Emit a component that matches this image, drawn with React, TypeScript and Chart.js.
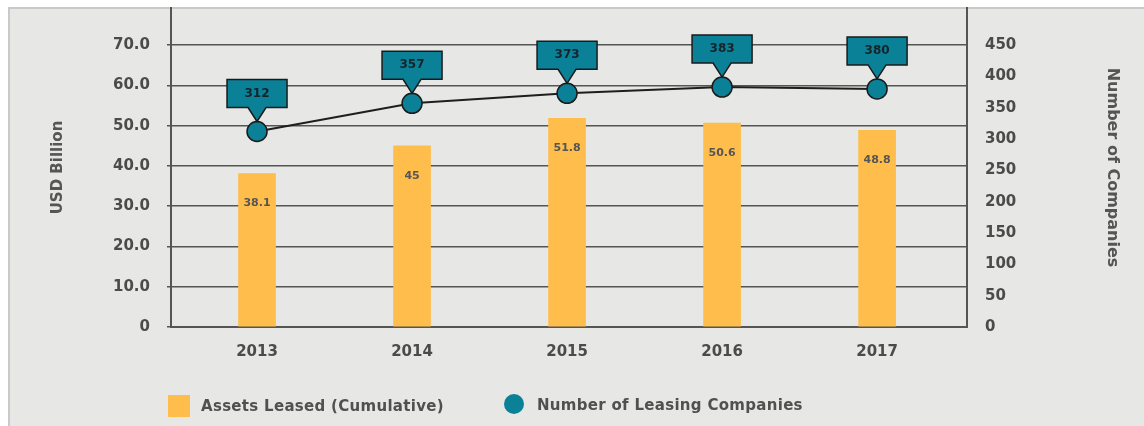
import React, { useEffect, useRef } from "react";
import { Chart, registerables } from "chart.js";

Chart.register(...registerables);

const years = ["2013", "2014", "2015", "2016", "2017"];
const assetsLeased = [38.1, 45, 51.8, 50.6, 48.8];
const leasingCompanies = [312, 357, 373, 383, 380];
const leftTickValues = [0, 10, 20, 30, 40, 50, 60, 70];
const rightTickValues = [0, 50, 100, 150, 200, 250, 300, 350, 400, 450];

const LEFT_MAX = 79.2;
const RIGHT_MAX = (LEFT_MAX * 450) / 70;
const X_MIN = -0.555;
const X_MAX = 4.58;

const TEAL = "#0b8198";
const ORANGE = "#ffbd4b";
const TEXT = "#4b4b4b";
const FONT = '"DejaVu Sans", sans-serif';

const calloutPlugin = {
  id: "callouts",
  afterDatasetsDraw(chart: any) {
    const ctx = chart.ctx;
    const barMeta = chart.getDatasetMeta(0);
    ctx.save();
    ctx.font = `bold 11px ${FONT}`;
    ctx.fillStyle = "#555555";
    ctx.textAlign = "center";
    ctx.textBaseline = "middle";
    barMeta.data.forEach((el: any, i: number) => {
      ctx.fillText(String(assetsLeased[i]), el.x, el.y + 30);
    });
    const lineMeta = chart.getDatasetMeta(1);
    lineMeta.data.forEach((pt: any, i: number) => {
      const x = pt.x;
      const y = pt.y;
      const w = 60;
      const h = 28;
      const bottom = y - 24;
      const top = bottom - h;
      ctx.beginPath();
      ctx.moveTo(x - w / 2, top);
      ctx.lineTo(x + w / 2, top);
      ctx.lineTo(x + w / 2, bottom);
      ctx.lineTo(x + 9, bottom);
      ctx.lineTo(x, y - 10);
      ctx.lineTo(x - 9, bottom);
      ctx.lineTo(x - w / 2, bottom);
      ctx.closePath();
      ctx.fillStyle = TEAL;
      ctx.fill();
      ctx.lineWidth = 1.5;
      ctx.strokeStyle = "#1a1a1a";
      ctx.stroke();
      ctx.fillStyle = "#14242a";
      ctx.font = `bold 12px ${FONT}`;
      ctx.fillText(String(leasingCompanies[i]), x, top + h / 2);
    });
    ctx.restore();
  },
};

export default function App() {
  const ref = useRef<HTMLCanvasElement | null>(null);

  useEffect(() => {
    document.documentElement.style.overflow = "hidden";
    const canvas = ref.current;
    if (!canvas) return;
    const chart = new Chart(canvas, {
      type: "bar",
      data: {
        datasets: [
          {
            type: "bar",
            label: "Assets Leased (Cumulative)",
            data: assetsLeased.map((v, i) => ({ x: i, y: v })),
            backgroundColor: ORANGE,
            barThickness: 37,
            yAxisID: "y",
            order: 2,
          },
          {
            type: "line",
            label: "Number of Leasing Companies",
            data: leasingCompanies.map((v, i) => ({ x: i, y: v })),
            borderColor: "#1e1e1e",
            borderWidth: 2,
            pointRadius: 10,
            pointBackgroundColor: TEAL,
            pointBorderColor: "#1a1a1a",
            pointBorderWidth: 1.5,
            yAxisID: "y1",
            order: 1,
            clip: false,
          } as any,
        ],
      },
      options: {
        responsive: false,
        animation: false,
        devicePixelRatio: 1,
        layout: { autoPadding: false, padding: { left: 0, right: 0, top: 8, bottom: 59 } },
        plugins: {
          legend: { display: false },
          tooltip: { enabled: false },
        },
        scales: {
          x: {
            type: "linear",
            min: X_MIN,
            max: X_MAX,
            offset: false,
            afterBuildTicks: (s: any) => {
              s.ticks = years.map((_, i) => ({ value: i }));
            },
            afterFit: (s: any) => {
              s.height = 40;
              s.paddingLeft = 0;
              s.paddingRight = 0;
            },
            grid: { display: false, drawTicks: false },
            border: { display: true, color: "#555555", width: 2 },
            ticks: {
              color: TEXT,
              padding: 16,
              font: { family: FONT, size: 15, weight: "bold" },
              callback: (v: any) => years[Math.round(Number(v))] ?? "",
            },
          },
          y: {
            position: "left",
            min: 0,
            max: LEFT_MAX,
            afterBuildTicks: (s: any) => {
              s.ticks = leftTickValues.map((v) => ({ value: v }));
            },
            afterFit: (s: any) => {
              s.width = 171;
              s.paddingTop = 0;
              s.paddingBottom = 0;
            },
            grid: { color: "#555555", lineWidth: 1.5, tickLength: 4, drawTicks: true },
            border: { display: true, color: "#555555", width: 2 },
            ticks: {
              color: TEXT,
              padding: 17,
              font: { family: FONT, size: 15, weight: "bold" },
              callback: (v: any) => (Number(v) === 0 ? "0" : Number(v).toFixed(1)),
            },
            title: {
              display: true,
              text: "USD Billion",
              color: "#555555",
              font: { family: FONT, size: 15, weight: "bold" },
              padding: { top: 49, bottom: 0 },
            },
          },
          y1: {
            position: "right",
            min: 0,
            max: RIGHT_MAX,
            afterBuildTicks: (s: any) => {
              s.ticks = rightTickValues.map((v) => ({ value: v }));
            },
            afterFit: (s: any) => {
              s.width = 177;
              s.paddingTop = 0;
              s.paddingBottom = 0;
            },
            grid: { drawOnChartArea: false, drawTicks: false },
            border: { display: true, color: "#555555", width: 2 },
            ticks: {
              color: TEXT,
              padding: 18,
              font: { family: FONT, size: 15, weight: "bold" },
              callback: (v: any) => String(v),
            },
            title: {
              display: true,
              text: "Number of Companies",
              color: "#555555",
              font: { family: FONT, size: 16, weight: "bold" },
              padding: { top: 22, bottom: 0 },
            },
          },
        },
      },
      plugins: [calloutPlugin],
    });
    return () => chart.destroy();
  }, []);

  const legendText: React.CSSProperties = {
    position: "fixed",
    fontFamily: FONT,
    fontWeight: "bold",
    fontSize: 15,
    color: "#505050",
    lineHeight: "22px",
    whiteSpace: "nowrap",
    letterSpacing: "0.3px",
  };

  return (
    <div>
      <div
        style={{
          position: "fixed",
          left: 8,
          top: 7,
          right: 0,
          bottom: 0,
          background: "#e7e7e5",
          borderTop: "2px solid #c9c9c9",
          borderLeft: "2px solid #c9c9c9",
        }}
      />
      <canvas
        ref={ref}
        width={1144}
        height={426}
        style={{ position: "fixed", left: 0, top: 0, width: 1144, height: 426 }}
      />
      <div
        style={{
          position: "fixed",
          left: 168,
          top: 395,
          width: 22,
          height: 22,
          background: ORANGE,
        }}
      />
      <div style={{ ...legendText, left: 201, top: 395 }}>Assets Leased (Cumulative)</div>
      <div
        style={{
          position: "fixed",
          left: 504,
          top: 394,
          width: 20,
          height: 20,
          borderRadius: "50%",
          background: TEAL,
        }}
      />
      <div style={{ ...legendText, left: 537, top: 394 }}>Number of Leasing Companies</div>
    </div>
  );
}
